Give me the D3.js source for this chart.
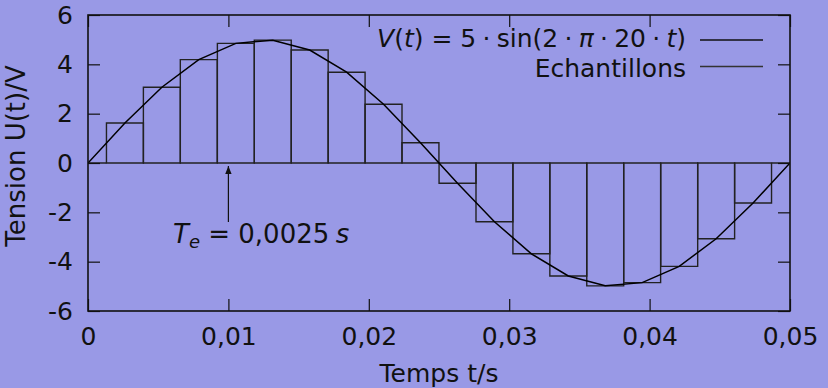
<!DOCTYPE html>
<html>
<head>
<meta charset="utf-8">
<script src="https://cdn.jsdelivr.net/npm/d3@7"></script>
<style>
  html, body { margin: 0; padding: 0; background: #9999e6; }
  svg { display: block; }
  text { font-family: "DejaVu Sans", sans-serif; fill: #111; }
</style>
</head>
<body>
<svg id="chart" width="828" height="388"></svg>
<script>
// ---- data ----
const sampleTimes = [0, 0.00263, 0.00526, 0.00789, 0.01053, 0.01316, 0.01579, 0.01842, 0.02105, 0.02368,
                     0.02632, 0.02895, 0.03158, 0.03421, 0.03684, 0.03947, 0.04211, 0.04474, 0.04737, 0.05];
const sampleValues = [0, 1.62, 3.07, 4.19, 4.85, 4.98, 4.58, 3.68, 2.38, 0.82,
                      -0.82, -2.38, -3.68, -4.58, -4.98, -4.85, -4.19, -3.07, -1.62, 0];
const sampleWidth = 0.00263;
const xTicks = [0, 0.01, 0.02, 0.03, 0.04, 0.05];
const yTicks = [-6, -4, -2, 0, 2, 4, 6];
const xDomain = [0, 0.05];
const yDomain = [-6, 6];
const legendLabels = ["V(t)", "Echantillons"];
const annotationT = 0.01;

// ---- layout ----
const W = 828, H = 388;
const L = 88, R = 790, T = 15, B = 311;
const svg = d3.select("#chart");

const x = d3.scaleLinear().domain(xDomain).range([L, R]);
const y = d3.scaleLinear().domain(yDomain).range([B, T]);

const loc = d3.formatLocale({decimal: ",", thousands: " ", grouping: [3], currency: ["", ""], minus: "-"});
const fx = v => v === 0 ? "0" : loc.format(".2f")(v);
const fy = loc.format("d");

const fontSize = 25;
const thin = "\u2009", mid = "\u2005";

// clip
svg.append("clipPath").attr("id", "clip")
  .append("rect").attr("x", L).attr("y", T).attr("width", R - L).attr("height", B - T);

// boxes (samples)
const boxes = svg.append("g").attr("clip-path", "url(#clip)");
sampleTimes.forEach((t, i) => {
  const x0 = x(Math.max(xDomain[0], t - sampleWidth / 2));
  const x1 = x(Math.min(xDomain[1], t + sampleWidth / 2));
  const y0 = y(0), y1 = y(sampleValues[i]);
  boxes.append("path")
    .attr("d", `M${x0},${y0}L${x0},${y1}L${x1},${y1}L${x1},${y0}Z`)
    .attr("fill", "none").attr("stroke", "#222").attr("stroke-width", 1.4);
});

// curve through samples
const line = d3.line().x((d, i) => x(sampleTimes[i])).y(d => y(d));
svg.append("path").datum(sampleValues)
  .attr("d", line).attr("fill", "none").attr("stroke", "#000").attr("stroke-width", 1.5)
  .attr("clip-path", "url(#clip)");

// axes
function styleAxis(g) {
  g.select(".domain").remove();
  g.selectAll(".tick line").attr("stroke", "#111").attr("stroke-width", 1.2);
  g.selectAll(".tick text").attr("font-size", fontSize).attr("font-family", "DejaVu Sans").attr("fill", "#111");
}
svg.append("g").attr("transform", `translate(0,${B})`)
  .call(d3.axisBottom(x).tickValues(xTicks).tickFormat(fx).tickSizeInner(-12).tickSizeOuter(0).tickPadding(16))
  .call(styleAxis);
svg.append("g").attr("transform", `translate(0,${T})`)
  .call(d3.axisTop(x).tickValues(xTicks).tickFormat("").tickSizeInner(-12).tickSizeOuter(0))
  .call(styleAxis);
svg.append("g").attr("transform", `translate(${L},0)`)
  .call(d3.axisLeft(y).tickValues(yTicks).tickFormat(fy).tickSizeInner(-12).tickSizeOuter(0).tickPadding(15))
  .call(styleAxis);
svg.append("g").attr("transform", `translate(${R},0)`)
  .call(d3.axisRight(y).tickValues(yTicks).tickFormat("").tickSizeInner(-12).tickSizeOuter(0))
  .call(styleAxis);

// frame
svg.append("rect").attr("x", L).attr("y", T).attr("width", R - L).attr("height", B - T)
  .attr("fill", "none").attr("stroke", "#111").attr("stroke-width", 1.6);

// axis titles
svg.append("text").attr("x", (L + R) / 2).attr("y", 382).attr("text-anchor", "middle")
  .attr("font-size", fontSize).text("Temps t/s");
svg.append("text").attr("transform", `translate(25,156) rotate(-90)`).attr("text-anchor", "middle")
  .attr("font-size", 26).text("Tension U(t)/V");

// legend
const lg = svg.append("g");
const t1 = lg.append("text").attr("x", 686).attr("y", 47).attr("text-anchor", "end").attr("font-size", fontSize);
t1.append("tspan").attr("font-style", "italic").text("V");
t1.append("tspan").text("(");
t1.append("tspan").attr("font-style", "italic").text("t");
t1.append("tspan").text(") = 5" + mid + "·" + mid + "sin(2" + mid + "·" + mid);
t1.append("tspan").attr("font-style", "italic").text("π");
t1.append("tspan").text(mid + "·" + mid + "20" + mid + "·" + mid);
t1.append("tspan").attr("font-style", "italic").text("t");
t1.append("tspan").text(")");
lg.append("text").attr("x", 686).attr("y", 76.5).attr("text-anchor", "end").attr("font-size", fontSize).text(legendLabels[1]);
lg.append("line").attr("x1", 700).attr("x2", 763).attr("y1", 40).attr("y2", 40).attr("stroke", "#111").attr("stroke-width", 1.4);
lg.append("line").attr("x1", 700).attr("x2", 763).attr("y1", 66.5).attr("y2", 66.5).attr("stroke", "#333").attr("stroke-width", 1.4);

// annotation arrow Te
const ax = x(annotationT);
svg.append("defs").append("marker").attr("id", "arrow").attr("viewBox", "0 0 10 10")
  .attr("refX", 10).attr("refY", 5).attr("markerWidth", 8).attr("markerHeight", 8)
  .attr("markerUnits", "userSpaceOnUse").attr("orient", "auto")
  .append("path").attr("d", "M0,1L10,5L0,9Z").attr("fill", "#111");
svg.append("line").attr("x1", ax).attr("x2", ax).attr("y1", 222).attr("y2", y(0) + 3)
  .attr("stroke", "#111").attr("stroke-width", 1.2).attr("marker-end", "url(#arrow)");
const te = svg.append("text").attr("x", 173).attr("y", 243).attr("font-size", 26);
te.append("tspan").attr("font-style", "italic").text("T");
te.append("tspan").attr("font-style", "italic").attr("font-size", 18).attr("dy", 5).text("e");
te.append("tspan").attr("dy", -5).text(" = 0,0025" + mid);
te.append("tspan").attr("font-style", "italic").text("s");
</script>
</body>
</html>
